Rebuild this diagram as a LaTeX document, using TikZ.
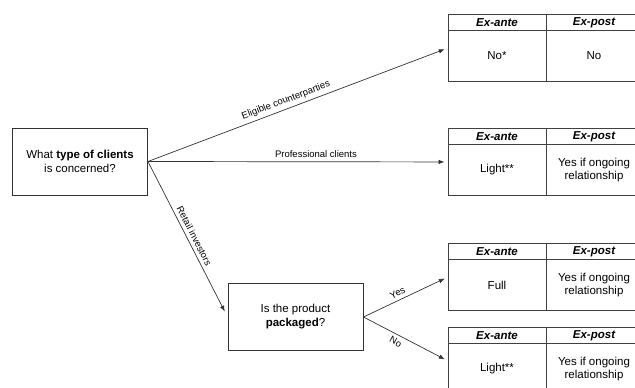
\documentclass[tikz,border=0pt]{standalone}
\usepackage{fontspec}
\setmainfont{Liberation Sans}
\usetikzlibrary{arrows.meta}
\tikzset{
	question/.style={draw=black!80, line width=0.9pt, align=center,
		minimum width=135pt, minimum height=67pt,
		font=\fontsize{11.5}{14}\selectfont},
	tablebox/.style={draw=black!75, line width=0.9pt, anchor=north west,
		minimum width=194pt, minimum height=67pt, inner sep=0pt},
	cell/.style={align=center, font=\fontsize{11.5}{13.5}\selectfont},
	head/.style={font=\fontsize{11.5}{13.5}\selectfont\bfseries\itshape},
	link/.style={draw=black!80, line width=0.7pt,
		-{Latex[length=6pt,width=4.5pt]}, shorten >=3.5pt},
	lab/.style={font=\fontsize{9.5}{11}\selectfont, sloped, inner sep=3.5pt}
}
\begin{document}
\begin{tikzpicture}[x=1pt, y=-1pt]
	\useasboundingbox (0,0) rectangle (635,388);
	% Fragen
	\node[question] (clients) at (80,161.5) {What \textbf{type of clients}\\is concerned?};
	\node[question] (packaged) at (295.5,317) {Is the product\\\textbf{packaged}?};

	% Tabellen
	\foreach \i/\ty/\ante/\post in {1/14/No*/No,
		2/128/Light**/{Yes if ongoing\\relationship},
		3/243/Full/{Yes if ongoing\\relationship},
		4/327/Light**/{Yes if ongoing\\relationship}} {
		\node[tablebox] (tab\i) at (448,\ty) {};
		\draw[draw=black!75, line width=0.9pt] ([yshift=-16.5pt]tab\i.north west) -- ([yshift=-16.5pt]tab\i.north east);
		\draw[draw=black!75, line width=0.9pt] ([xshift=98pt]tab\i.north west) -- ([xshift=98pt]tab\i.south west);
		\node[head] at ([xshift=49pt, yshift=-8.5pt]tab\i.north west) {Ex-ante};
		\node[head] at ([xshift=146pt, yshift=-8.5pt]tab\i.north west) {Ex-post};
		\node[cell] at ([xshift=49pt, yshift=-42pt]tab\i.north west) {\ante};
		\node[cell] at ([xshift=146pt, yshift=-42pt]tab\i.north west) {\post};
	}

	% Pfeile
	\draw[link] (clients.east) -- node[lab, above, pos=0.47] {Eligible counterparties} (tab1.west);
	\draw[link] (clients.east) -- node[lab, above, pos=0.56] {Professional clients} (tab2.west);
	\draw[link, shorten >=6pt] (clients.east) -- node[lab, above, pos=0.5] {Retail investors} (packaged.west);
	\draw[link] (packaged.east) -- node[lab, above, pos=0.44] {Yes} (tab3.west);
	\draw[link] (packaged.east) -- node[lab, below, pos=0.42] {No} (tab4.west);
\end{tikzpicture}
\end{document}
